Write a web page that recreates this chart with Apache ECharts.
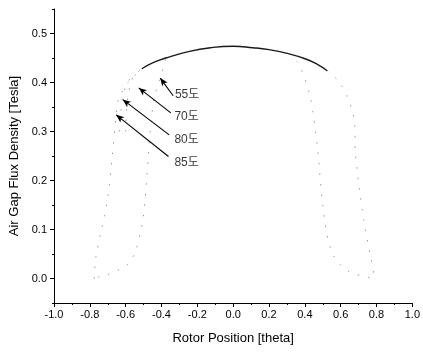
<!DOCTYPE html>
<html>
<head>
<meta charset="utf-8">
<script src="https://cdn.jsdelivr.net/npm/echarts@6/dist/echarts.min.js"></script>
<style>
  html, body { margin: 0; padding: 0; background: #fff; }
  #chart { width: 423px; height: 354px; }
</style>
</head>
<body>
<div id="chart"></div>
<script>
// x ticks and y ticks
const xTicks = [-1.0, -0.8, -0.6, -0.4, -0.2, 0.0, 0.2, 0.4, 0.6, 0.8, 1.0];
const yTicks = [0.0, 0.1, 0.2, 0.3, 0.4, 0.5];

// common top arc
const arcX = [-0.51, -0.45, -0.376, -0.25, -0.126, 0.0, 0.11, 0.2, 0.295, 0.405, 0.47, 0.525];
const arcY = [0.428, 0.44, 0.45, 0.463, 0.471, 0.474, 0.471, 0.467, 0.46, 0.448, 0.437, 0.424];

// 55도 flanks
const d55LeftX = [-0.755, -0.705, -0.588, -0.547, -0.514, -0.501, -0.492, -0.483, -0.47, -0.459, -0.44, -0.41, -0.376];
const d55LeftY = [0.003, 0.007, 0.029, 0.054, 0.1, 0.127, 0.16, 0.2, 0.27, 0.317, 0.37, 0.405, 0.45];
const d55RightX = [0.354, 0.372, 0.43, 0.47, 0.5, 0.55, 0.642, 0.775];
const d55RightY = [0.443, 0.435, 0.37, 0.269, 0.15, 0.054, 0.015, 0.001];

// 70도 / 80도 flanks (upper left part is what shows)
const d70LeftX = [-0.6, -0.588, -0.56, -0.51];
const d70LeftY = [0.3, 0.37, 0.41, 0.428];
const d80LeftX = [-0.634, -0.62, -0.59, -0.55];
const d80LeftY = [0.3, 0.365, 0.4, 0.418];

// 85도 flanks
const d85LeftX = [-0.775, -0.767, -0.735, -0.699, -0.675, -0.653, -0.649, -0.634, -0.588, -0.51];
const d85LeftY = [0.0, 0.042, 0.1, 0.167, 0.25, 0.334, 0.351, 0.371, 0.399, 0.428];
const d85RightX = [0.525, 0.59, 0.645, 0.664, 0.677, 0.682, 0.706, 0.729, 0.769, 0.788];
const d85RightY = [0.424, 0.402, 0.365, 0.342, 0.322, 0.256, 0.18, 0.119, 0.04, 0.003];

// arrows: tip -> tail, and the labels
const arrowTipX = [-0.407, -0.527, -0.616, -0.653];
const arrowTipY = [0.409, 0.389, 0.365, 0.334];
const arrowTailX = [-0.335, -0.348, -0.357, -0.361];
const arrowTailY = [0.373, 0.338, 0.293, 0.249];
const labelX = [-0.325, -0.328, -0.328, -0.328];
const labelY = [0.376, 0.331, 0.283, 0.2355];
const labelText = ['55도', '70도', '80도', '85도'];

const zip = (xs, ys) => xs.map((x, i) => [x, ys[i]]);
const FONT = '"Liberation Sans", Arial, "Noto Sans CJK KR", sans-serif';

function flank(xs, ys) {
  return {
    type: 'line',
    data: zip(xs, ys),
    smooth: 0.3,
    showSymbol: false,
    silent: true,
    lineStyle: { color: '#999', width: 1, type: [1.5, 9] },
  };
}

const chart = echarts.init(document.getElementById('chart'));

const axisLineStyle = { color: '#000', width: 1 };

chart.setOption({
  animation: false,
  grid: [
    { left: 54, right: 8, top: 9, bottom: 51 },
    // second grid only for major y ticks 0.0..0.5
    { left: 54, right: 8, top: 33.5, bottom: 75.5 },
  ],
  xAxis: [
    {
      type: 'value', gridIndex: 0,
      min: -1, max: 1, interval: 0.2,
      name: 'Rotor Position [theta]',
      nameLocation: 'middle', nameGap: 29,
      nameTextStyle: { fontFamily: FONT, fontSize: 13, color: '#000' },
      axisLine: { onZero: false, lineStyle: axisLineStyle },
      axisTick: { show: true, inside: false, length: 4, lineStyle: axisLineStyle },
      minorTick: { show: true, splitNumber: 2, length: 2, lineStyle: axisLineStyle },
      splitLine: { show: false },
      axisLabel: {
        fontFamily: FONT, fontSize: 11, color: '#000', margin: 6,
        formatter: (v) => v.toFixed(1),
      },
    },
    { type: 'value', gridIndex: 1, min: -1, max: 1, show: false },
  ],
  yAxis: [
    {
      type: 'value', gridIndex: 0,
      min: -0.05, max: 0.55, interval: 0.05,
      name: 'Air Gap Flux Density [Tesla]',
      nameLocation: 'middle', nameGap: 33,
      nameTextStyle: { fontFamily: FONT, fontSize: 13, color: '#000' },
      axisLine: { show: true, onZero: false, lineStyle: axisLineStyle },
      axisTick: { show: true, inside: false, length: 2, lineStyle: axisLineStyle },
      splitLine: { show: false },
      axisLabel: { show: false },
    },
    {
      type: 'value', gridIndex: 1,
      min: yTicks[0], max: yTicks[yTicks.length - 1], interval: 0.1,
      axisLine: { show: false, onZero: false },
      axisTick: { show: true, inside: false, length: 4, lineStyle: axisLineStyle },
      splitLine: { show: false },
      axisLabel: {
        fontFamily: FONT, fontSize: 11, color: '#000', margin: 7,
        formatter: (v) => v.toFixed(1),
      },
    },
  ],
  series: [
    flank(d55LeftX, d55LeftY),
    flank(d55RightX, d55RightY),
    flank(d70LeftX, d70LeftY),
    flank(d80LeftX, d80LeftY),
    flank(d85LeftX, d85LeftY),
    flank(d85RightX, d85RightY),
    {
      type: 'line',
      data: zip(arcX, arcY),
      smooth: true,
      showSymbol: false,
      silent: true,
      lineStyle: { color: '#1a1a1a', width: 1.4 },
      markLine: {
        silent: true,
        animation: false,
        symbolSize: [5, 8],
        label: { show: false },
        lineStyle: { color: '#000', width: 1.1, type: 'solid' },
        data: arrowTipX.map((x, i) => [
          { coord: [x, arrowTipY[i]], symbol: 'arrow' },
          { coord: [arrowTailX[i], arrowTailY[i]], symbol: 'none' },
        ]),
      },
    },
    {
      type: 'scatter',
      symbolSize: 0,
      silent: true,
      data: labelX.map((x, i) => [x, labelY[i], labelText[i]]),
      label: {
        show: true,
        position: 'right',
        distance: 0,
        formatter: (p) => p.value[2],
        fontFamily: FONT,
        fontSize: 12,
        color: '#000',
      },
    },
  ],
});
</script>
</body>
</html>
